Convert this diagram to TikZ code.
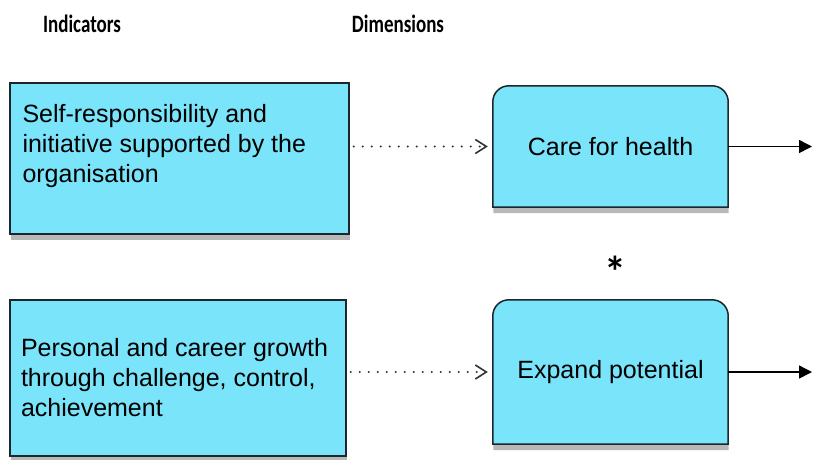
\documentclass[tikz,border=0pt]{standalone}
\usepackage{fontspec}
\setmainfont{Liberation Sans}
\newfontfamily\headfont[FakeStretch=0.76]{Carlito}
\newfontfamily\starfont{Carlito}
\usetikzlibrary{arrows.meta,shadows,backgrounds}

\definecolor{boxcyan}{RGB}{122,228,250}
\definecolor{edgegray}{RGB}{28,38,44}

% text of an indicator box: height, vertical position, lines
\newcommand{\indtext}[3]{\parbox[c][#1][#2]{314pt}{\raggedright\fontsize{25}{30}\selectfont #3}}

\tikzset{
    heading/.style={font=\headfont\bfseries\fontsize{25}{28}\selectfont, anchor=base},
    boxshadow/.style={drop shadow={shadow xshift=0.5pt, shadow yshift=-6pt, opacity=0.28, fill=black}},
    indbox/.style={draw=edgegray, line width=1.5pt, fill=boxcyan, boxshadow,
        inner xsep=11pt, inner ysep=21pt},
    dimbox/.style={inner sep=0pt, minimum width=235pt, font=\fontsize{25}{30}\selectfont},
    dimedge/.style={draw=edgegray, line width=1.5pt, fill=boxcyan, boxshadow},
    dotarrow/.style={draw=black!80, line width=2.4pt, line cap=round, dash pattern=on 0pt off 9pt,
        -{Straight Barb[length=11pt, width=14pt, line width=1.6pt]}, shorten <=4pt, shorten >=5pt},
    outarrow/.style={draw=black, line width=1.5pt, -{Triangle[length=13pt, width=13pt]}}
}

\begin{document}
\begin{tikzpicture}[x=1pt, y=1pt]
    \useasboundingbox (0, 0) rectangle (813, -459);

    \node[heading] (headind) at (82, -32) {Indicators};
    \node[heading] (headdim) at (398, -32) {Dimensions};

    \node[indbox, minimum width=339pt] (ind1) at (179.5, -158.5)
        {\indtext{109pt}{t}{Self-responsibility and\\initiative supported by the\\organisation}};
    \node[indbox, minimum width=336pt] (ind2) at (178, -378)
        {\indtext{114pt}{c}{Personal and career growth\\through challenge, control,\\achievement}};

    \node[dimbox, minimum height=121pt] (dim1) at (610.5, -146.5) {Care for health};
    \node[dimbox, minimum height=144pt] (dim2) at (610.5, -372) {Expand potential};

    % only the top corners are rounded
    \begin{scope}[on background layer]
        \foreach \d in {dim1, dim2}
            \draw[dimedge] (\d.south west) -- ([yshift=-16pt]\d.north west)
                arc[start angle=180, end angle=90, radius=16pt] -- ([xshift=-16pt]\d.north east)
                arc[start angle=90, end angle=0, radius=16pt] -- (\d.south east) -- cycle;
    \end{scope}

    \node[font=\starfont\bfseries\fontsize{44}{44}\selectfont, anchor=base] (ast) at (615, -287) {*};

    \coordinate (rim) at (812, 0);

    \draw[dotarrow] (dim1.west -| ind1.east) -- (dim1.west);
    \draw[dotarrow] (dim2.west -| ind2.east) -- (dim2.west);

    \draw[outarrow] (dim1.east) -- (dim1.east -| rim);
    \draw[outarrow] (dim2.east) -- (dim2.east -| rim);
\end{tikzpicture}
\end{document}
